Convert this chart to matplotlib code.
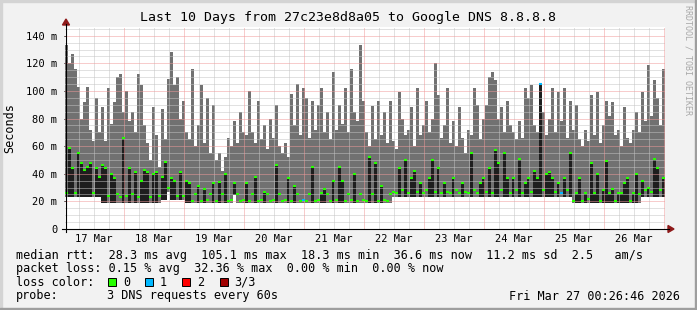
import numpy as np
import matplotlib
matplotlib.use("Agg")
import matplotlib.pyplot as plt
from matplotlib.lines import Line2D
from matplotlib.patches import Polygon, Rectangle

W, H = 697, 310

# time axis: days after Mar 17 00:00, graph starts Mar 17 00:26:46, 200 bins of 72 min
start = 26.77 / 1440
bin_days = 0.05

# smoke top (max ping per bin), ms
rtt_max = [
    133, 120, 127, 116, 103, 80, 92, 103, 72, 64, 95, 70, 88, 64, 102, 76, 92, 110, 112, 85,
    100, 78, 85, 70, 112, 104, 75, 62, 50, 88, 68, 45, 87, 65, 109, 128, 104, 110, 80, 93,
    70, 65, 116, 60, 75, 104, 62, 95, 55, 90, 50, 55, 42, 52, 66, 60, 78, 62, 85, 70,
    68, 100, 70, 62, 93, 65, 75, 58, 80, 66, 90, 60, 55, 62, 52, 98, 75, 105, 68, 102,
    95, 66, 93, 72, 90, 102, 70, 85, 65, 114, 72, 90, 76, 102, 70, 116, 85, 78, 133, 93,
    70, 60, 89, 65, 93, 68, 85, 62, 93, 64, 58, 99, 80, 68, 72, 88, 60, 102, 68, 75,
    93, 70, 80, 120, 97, 66, 75, 102, 62, 78, 60, 88, 66, 55, 72, 68, 102, 90, 65, 80,
    90, 110, 114, 108, 80, 88, 70, 93, 75, 70, 65, 78, 66, 102, 95, 104, 75, 70, 106, 85,
    68, 80, 102, 70, 99, 78, 102, 66, 93, 72, 90, 65, 60, 72, 64, 97, 68, 99, 62, 75,
    93, 82, 92, 68, 72, 60, 88, 66, 62, 72, 85, 70, 99, 78, 119, 82, 108, 95, 75, 116,
]

# smoke bottom (min ping per bin), ms
rtt_min = ([23] * 12 + [18.5] * 20 + [21, 21, 27, 21, 21, 21, 21, 21] + [18.5] * 16
           + [24.6] + [18.5] * 52 + [23] * 60 + [18.5] * 23 + [23] * 8)

# median rtt per bin, ms
rtt_median = [
    26, 58.6, 44, 26, 55, 48, 43, 45, 48, 26, 44, 38, 46, 44, 24, 40, 37, 25, 23, 65.7,
    24, 44, 25, 41, 23, 35, 43, 41.5, 23, 40, 41, 24, 38, 48.7, 30, 37, 35, 24, 41.5, 24,
    35, 33, 20, 25, 31, 20, 29, 21, 25, 33, 20, 34, 25, 40, 20, 21, 33, 25, 20, 21,
    33, 20, 25, 38, 20, 21, 27, 25, 20, 21, 46, 25, 20, 21, 37, 20, 31, 25, 20, 21,
    20, 25, 44.7, 20, 21, 26, 29, 25, 20, 35, 21, 44.7, 35, 20, 25, 21, 40, 20, 25, 21,
    20, 52, 25, 48, 20, 31, 21, 20, 25, 27, 26, 44, 28, 50, 26, 37, 42, 27, 33, 26,
    28, 37, 50, 27, 44, 26, 33, 27, 26, 37, 28, 26, 33, 27, 26, 55, 28, 26, 33, 37,
    27, 44, 26, 57, 48, 28, 55, 37, 26, 37, 28, 51, 26, 33, 37, 27, 42, 37, 105.1, 28,
    40, 41, 37, 27, 33, 26, 37, 28, 55, 20, 26, 37, 20, 26, 22, 48, 26, 40, 20, 28,
    49, 26, 29, 20, 26, 26, 33, 37, 20, 26, 40, 25, 35, 28, 30, 27, 51, 44, 28, 37,
]

# bins where 1 of 3 requests was lost
loss1_bins = [79, 158, 165]

day_labels = ["17 Mar", "18 Mar", "19 Mar", "20 Mar", "21 Mar",
              "22 Mar", "23 Mar", "24 Mar", "25 Mar", "26 Mar"]
y_ticks = [0, 20, 40, 60, 80, 100, 120, 140]
y_labels = ["0", "20 m", "40 m", "60 m", "80 m", "100 m", "120 m", "140 m"]

title = "Last 10 Days from 27c23e8d8a05 to Google DNS 8.8.8.8"
rtt_line = "median rtt:  28.3 ms avg  105.1 ms max  18.3 ms min  36.6 ms now  11.2 ms sd  2.5   am/s"
loss_line = "packet loss: 0.15 % avg  32.36 % max  0.00 % min  0.00 % now"
loss_names = ["0", "1", "2", "3/3"]
loss_colors = ["#26ff00", "#00b8ff", "#ff0000", "#a10000"]
probe_text = "3 DNS requests every 60s"
stamp = "Fri Mar 27 00:26:46 2026"

BACK = "#f2f2f2"
MONO = "DejaVu Sans Mono"
FS = 8.5


def fx(x):
    return x / W


def fy(y):
    return 1 - y / H


fig = plt.figure(figsize=(W / 100, H / 100), dpi=100, facecolor=BACK)
ax = fig.add_axes([fx(65), fy(229), 600 / W, 202 / H])
ax.set_facecolor("white")

edges = start + bin_days * np.arange(len(rtt_max) + 1)
centers = edges[:-1] + bin_days / 2
hi = np.array(rtt_max, dtype=float)
lo = np.array(rtt_min, dtype=float)
med = np.array(rtt_median, dtype=float)

ax.stairs(hi, edges, baseline=lo, fill=True, color="#717171", lw=0, zorder=1)
# dark columns where the median rises well above the smoke bottom
spike = med - lo >= 7
ax.bar(centers[spike], (med - lo)[spike], bottom=lo[spike], width=bin_days * 0.67,
       color="#1e1e1e", lw=0, zorder=1.2)

# grid drawn over the smoke, like rrdtool
for v in np.arange(5, 146, 5):
    if v % 20:
        ax.axhline(v, color="#c4c4c4", lw=0.72, ls=(0, (1, 1)), zorder=2)
for d in np.arange(0.25, 10.1, 0.25):
    if d % 1:
        ax.axvline(d, color="#c4c4c4", lw=0.72, ls=(0, (1, 1)), zorder=2)
for v in y_ticks[1:]:
    ax.axhline(v, color="#f09a9a", lw=0.72, ls=(0, (1, 1)), zorder=2.1)
for d in range(1, 11):
    ax.axvline(d, color="#f09a9a", lw=0.72, ls=(0, (1, 1)), zorder=2.1)

mcol = [loss_colors[1] if i in loss1_bins else loss_colors[0] for i in range(len(med))]
ax.hlines(med, edges[:-1], edges[1:], colors=mcol, lw=1.5, zorder=3)

ax.set_xlim(start, start + 10)
ax.set_ylim(0, 146.3)
for s in ax.spines.values():
    s.set_visible(False)

ax.set_yticks(y_ticks)
ax.set_yticklabels(y_labels, family=MONO, fontsize=7.5)
ax.tick_params(axis="y", length=2, width=0.7, direction="inout", pad=4.5)
ax.set_xticks(np.arange(10) + 0.5)
ax.set_xticklabels(day_labels, family=MONO, fontsize=7.5)
ax.tick_params(axis="x", length=0, pad=3.5)

# axes lines with arrows
arrow = "#8e1a1a"
fig.add_artist(Line2D([fx(66), fx(66)], [fy(232), fy(24)], color="black", lw=0.8))
fig.add_artist(Line2D([fx(62), fx(669)], [fy(229), fy(229)], color="black", lw=0.8))
fig.add_artist(Polygon([[fx(668), fy(225.5)], [fx(668), fy(232.5)], [fx(674), fy(229)]],
                       closed=True, color=arrow, transform=fig.transFigure))
fig.add_artist(Polygon([[fx(62.5), fy(25)], [fx(69.5), fy(25)], [fx(66), fy(19)]],
                       closed=True, color=arrow, transform=fig.transFigure))

fig.text(fx(348), fy(18), title, family=MONO, fontsize=9.5, ha="center", va="center")
fig.text(fx(10), fy(128), "Seconds", family=MONO, fontsize=FS, rotation=90,
         ha="center", va="center")
fig.text(fx(688), fy(5), "RRDTOOL / TOBI OETIKER", family=MONO, fontsize=6,
         color="#a8a8a8", rotation=270, ha="center", va="top")

fig.text(fx(16), fy(255), rtt_line, family=MONO, fontsize=FS, ha="left", va="center")
fig.text(fx(16), fy(268.5), loss_line, family=MONO, fontsize=FS, ha="left", va="center")

fig.text(fx(16), fy(282), "loss color:", family=MONO, fontsize=FS, ha="left", va="center")
box_x = [108, 145, 182, 219.5]
for name, col, x in zip(loss_names, loss_colors, box_x):
    fig.add_artist(Rectangle((fx(x), fy(286)), 8 / W, 8 / H, facecolor=col,
                             edgecolor="black", lw=0.7, transform=fig.transFigure))
    fig.text(fx(x + 15), fy(282), name, family=MONO, fontsize=FS, ha="left", va="center")

fig.text(fx(16), fy(296), "probe:", family=MONO, fontsize=FS, ha="left", va="center")
fig.text(fx(107), fy(296), probe_text, family=MONO, fontsize=FS, ha="left", va="center")
fig.text(fx(680), fy(296), stamp, family=MONO, fontsize=FS, ha="right", va="center")

# bevel frame
light, dark_edge = "#d4d4d4", "#9e9e9e"
fig.add_artist(Rectangle((0, 1 - 2 / H), 1, 2 / H, color=light, transform=fig.transFigure))
fig.add_artist(Rectangle((0, 0), 2 / W, 1, color=light, transform=fig.transFigure))
fig.add_artist(Rectangle((1 - 2 / W, 0), 2 / W, 1, color=dark_edge, transform=fig.transFigure))
fig.add_artist(Rectangle((0, 0), 1, 2 / H, color=dark_edge, transform=fig.transFigure))

fig.savefig("out.png", dpi=100, facecolor=BACK)
